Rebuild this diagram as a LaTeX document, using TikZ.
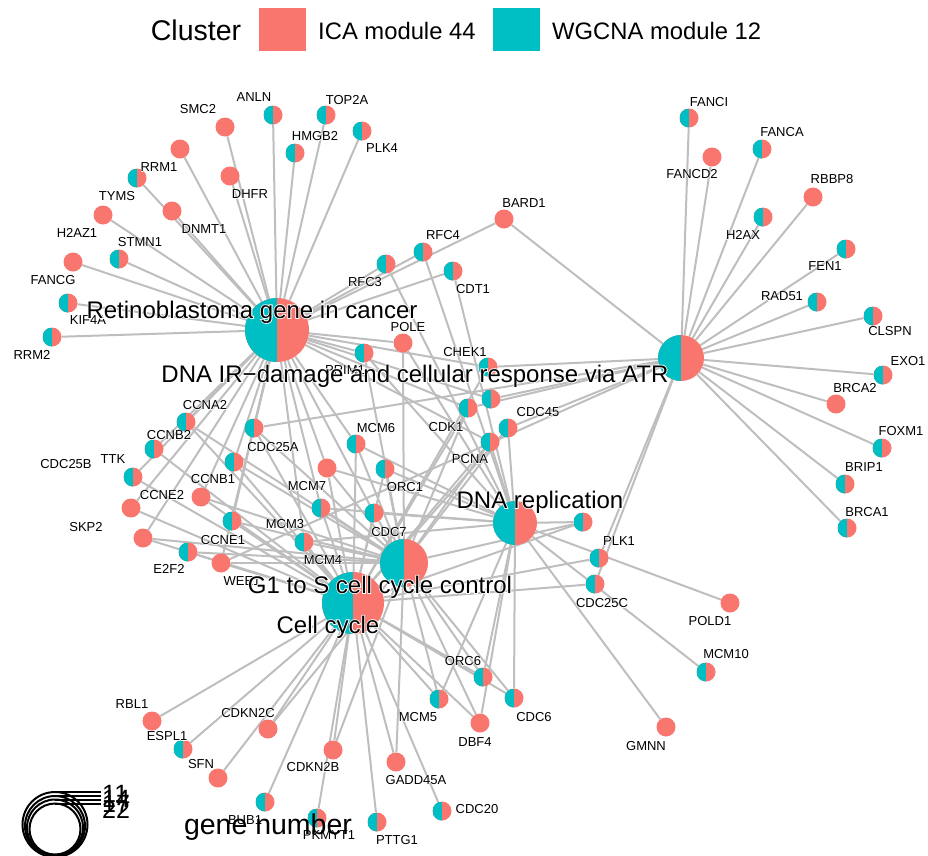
\documentclass[tikz,border=0pt]{standalone}
\usepackage{fontspec}
\setmainfont{Liberation Sans}
\newfontfamily\halohub{Liberation Sans}[FakeBold=7]
\newfontfamily\halogene{Liberation Sans}[FakeBold=6]
\definecolor{ica}{HTML}{F8766D}
\definecolor{wg}{HTML}{00BFC4}
\definecolor{edgec}{HTML}{BEBEBE}
\pgfdeclarelayer{edgelayer}
\pgfsetlayers{edgelayer,main}
\newcommand\halo[2]{\leavevmode\rlap{\color{white}#1#2}#2}
\begin{document}
\begin{tikzpicture}[x=1pt,y=-1pt,
 gene/.style={circle,inner sep=0pt,minimum size=19pt,fill=ica},
 half/.style={path picture={\fill[wg] (path picture bounding box.south west) rectangle (path picture bounding box.north);}},
 hub/.style={circle,inner sep=0pt,fill=ica,half},
 glabel/.style={inner sep=0pt,font=\fontsize{13}{15}\selectfont},
 hublabel/.style={inner sep=0pt,anchor=base,font=\fontsize{24}{27}\selectfont},
 legtitle/.style={inner sep=0pt,anchor=base,font=\fontsize{28.5}{31}\selectfont},
 legtext/.style={inner sep=0pt,anchor=base west,font=\fontsize{23.8}{26}\selectfont},
 sizetext/.style={inner sep=0pt,anchor=west,font=\fontsize{25}{27}\selectfont},
 edge/.style={draw=edgec,line width=2pt},
 sizekey/.style={draw=black,line width=2pt,fill=white}]
\useasboundingbox (0,0) rectangle (928,855);

% ---------- hubs ----------
\node[hub,minimum size=64pt] (RB) at (277,330) {};
\node[hub,minimum size=46pt] (ATR) at (681,358) {};
\node[hub,minimum size=44pt] (DR) at (515,523) {};
\node[hub,minimum size=48pt] (GS) at (404,563) {};
\node[hub,minimum size=62pt] (CC) at (353,603) {};

% ---------- genes ----------
\node[gene,half] (ANLN) at (273,115) {};
\node[gene] (SMC2) at (225,127) {};
\node[gene] (RRM1) at (180,149) {};
\node[gene,half] (HMGB2) at (295,153) {};
\node[gene,half] (TYMS) at (137,178) {};
\node[gene] (DHFR) at (230,176) {};
\node[gene] (DNMT1) at (172,211) {};
\node[gene] (H2AZ1) at (103,215) {};
\node[gene,half] (STMN1) at (119,259) {};
\node[gene] (FANCG) at (73,262) {};
\node[gene,half] (KIF4A) at (68,303) {};
\node[gene,half] (RRM2) at (52,337) {};
\node[gene,half] (TOP2A) at (326,115) {};
\node[gene,half] (PLK4) at (362,131) {};
\node[gene] (BARD1) at (504,219) {};
\node[gene,half] (RFC4) at (423,252) {};
\node[gene,half] (RFC3) at (386,264) {};
\node[gene,half] (CDT1) at (453,271) {};
\node[gene] (POLE) at (403,343) {};
\node[gene,half] (PRIM1) at (364,353) {};
\node[gene,half] (CHEK1) at (488,367) {};
\node[gene,half] (QA) at (491,399) {};
\node[gene,half] (FANCI) at (689,118) {};
\node[gene] (FANCD2) at (712,157) {};
\node[gene,half] (FANCA) at (762,149) {};
\node[gene] (RBBP8) at (813,197) {};
\node[gene,half] (H2AX) at (763,217) {};
\node[gene,half] (FEN1) at (846,249) {};
\node[gene,half] (RAD51) at (817,302) {};
\node[gene,half] (CLSPN) at (873,316) {};
\node[gene,half] (EXO1) at (883,375) {};
\node[gene] (BRCA2) at (836,404) {};
\node[gene,half] (FOXM1) at (882,448) {};
\node[gene,half] (BRIP1) at (845,484) {};
\node[gene,half] (BRCA1) at (847,528) {};
\node[gene,half] (CCNA2) at (186,422) {};
\node[gene,half] (CCNB2) at (154,449) {};
\node[gene,half] (TTK) at (133,477) {};
\node[gene] (CDC25B) at (131,508) {};
\node[gene] (SKP2) at (143,538) {};
\node[gene] (CCNE2) at (201,497) {};
\node[gene,half] (CDC25A) at (254,428) {};
\node[gene,half] (CCNB1) at (234,462) {};
\node[gene,half] (CCNE1) at (232,521) {};
\node[gene,half] (E2F2) at (188,552) {};
\node[gene] (WEE1) at (221,563) {};
\node[gene,half] (MCM6) at (356,444) {};
\node[gene] (QB) at (327,468) {};
\node[gene,half] (ORC1) at (385,469) {};
\node[gene,half] (MCM7) at (321,508) {};
\node[gene,half] (CDC7) at (374,513) {};
\node[gene,half] (MCM3) at (304,542) {};
\node[gene,half] (CDK1) at (468,408) {};
\node[gene,half] (CDC45) at (508,428) {};
\node[gene,half] (PCNA) at (490,442) {};
\node[gene,half] (QC) at (583,522) {};
\node[gene,half] (PLK1) at (599,558) {};
\node[gene,half] (CDC25C) at (595,584) {};
\node[gene] (POLD1) at (730,603) {};
\node[gene,half] (MCM10) at (706,672) {};
\node[gene] (GMNN) at (666,727) {};
\node[gene] (RBL1) at (152,721) {};
\node[gene,half] (ESPL1) at (183,749) {};
\node[gene] (CDKN2C) at (268,729) {};
\node[gene] (SFN) at (218,778) {};
\node[gene,half] (BUB1) at (265,802) {};
\node[gene] (CDKN2B) at (333,750) {};
\node[gene,half] (PKMYT1) at (317,818) {};
\node[gene,half] (PTTG1) at (377,822) {};
\node[gene] (GADD45A) at (396,762) {};
\node[gene,half] (CDC20) at (442,811) {};
\node[gene,half] (MCM5) at (439,699) {};
\node[gene,half] (ORC6) at (483,677) {};
\node[gene] (DBF4) at (480,723) {};
\node[gene,half] (CDC6) at (514,698) {};

% ---------- edges ----------
\begin{pgfonlayer}{edgelayer}
\foreach \g in {ANLN,SMC2,RRM1,HMGB2,TYMS,DHFR,DNMT1,H2AZ1,STMN1,FANCG,KIF4A,RRM2,TOP2A,PLK4,BARD1,RFC4,RFC3,CDT1,POLE,PRIM1,CHEK1,QA,CCNA2,CCNB2,TTK,CDC25B,SKP2,CCNE2,CDC25A,CCNB1,CCNE1,WEE1,MCM6,QB,MCM7,CDC7,MCM3,CDK1,PCNA}
  \draw[edge] (RB) -- (\g);
\foreach \g in {FANCI,FANCD2,FANCA,RBBP8,H2AX,FEN1,RAD51,CLSPN,EXO1,BRCA2,FOXM1,BRIP1,BRCA1,BARD1,CHEK1,QA,CDK1,CDC45,PLK1,CDC25C,CDC25A,WEE1}
  \draw[edge] (ATR) -- (\g);
\foreach \g in {RFC4,RFC3,CDT1,POLE,PRIM1,MCM6,QB,ORC1,MCM7,CDC7,MCM3,PCNA,CDC45,QC,POLD1,MCM10,GMNN,MCM5,ORC6,DBF4,CDC6}
  \draw[edge] (DR) -- (\g);
\foreach \g in {POLE,PRIM1,CCNA2,SKP2,CCNE2,CDC25A,CCNB1,CCNE1,E2F2,WEE1,MCM6,QB,ORC1,MCM7,CDC7,MCM3,CDK1,PCNA,CDC45,QC,CDKN2C,CDKN2B,GADD45A,MCM5,ORC6,CDC6,DBF4}
  \draw[edge] (GS) -- (\g);
\foreach \g in {CHEK1,CCNA2,CCNB2,TTK,CDC25B,SKP2,CCNE2,CDC25A,CCNB1,CCNE1,E2F2,WEE1,MCM6,QB,ORC1,MCM7,CDC7,MCM3,CDK1,PCNA,CDC45,QC,PLK1,CDC25C,RBL1,ESPL1,CDKN2C,SFN,BUB1,CDKN2B,PKMYT1,PTTG1,GADD45A,CDC20,MCM5,ORC6,DBF4,CDC6}
  \draw[edge] (CC) -- (\g);
\end{pgfonlayer}

% ---------- gene labels ----------
\foreach \t/\x/\y in {ANLN/254/97,SMC2/198/109,RRM1/159/167,HMGB2/315/136,TYMS/117/196,DHFR/250/194,DNMT1/204/229,H2AZ1/77/233,STMN1/140/242,FANCG/53/280,KIF4A/88/320,RRM2/32/355,TOP2A/347/100,PLK4/382/148,BARD1/524/203,RFC4/443/235,RFC3/365/282,CDT1/473/289,POLE/408/327,PRIM1/345/370,CHEK1/465/352,FANCI/709/102,FANCD2/692/174,FANCA/782/132,RBBP8/832/179,H2AX/743/235,FEN1/825/266,RAD51/782/296,CLSPN/890/331,EXO1/908/361,BRCA2/855/388,FOXM1/901/431,BRIP1/864/467,BRCA1/867/512,CCNA2/205/405,CCNB2/169/435,TTK/113/459,CDC25B/66/464,SKP2/86/527,CCNE2/162/495,CDC25A/273/447,CCNB1/213/479,CCNE1/223/540,E2F2/169/569,WEE1/242/581,MCM6/376/428,ORC1/405/487,MCM7/307/486,CDC7/389/532,MCM3/285/524,MCM4/323/560,CDK1/446/427,CDC45/538/412,PCNA/470/459,PLK1/619/541,CDC25C/602/603,POLD1/710/621,MCM10/726/654,GMNN/646/746,RBL1/132/704,ESPL1/167/736,CDKN2C/248/713,SFN/201/764,BUB1/245/820,CDKN2B/313/767,PKMYT1/329/835,PTTG1/397/840,GADD45A/416/780,CDC20/477/809,MCM5/418/717,ORC6/463/661,DBF4/475/742,CDC6/534/717}
  \node[glabel] (lab-\t) at (\x,\y) {\halo{\halogene}{\t}};

% ---------- hub labels ----------
\node[hublabel] (lab-RB) at (252,318) {\halo{\halohub}{Retinoblastoma gene in cancer}};
\node[hublabel] (lab-ATR) at (415,382) {\halo{\halohub}{DNA IR−damage and cellular response via ATR}};
\node[hublabel] (lab-DR) at (540,508) {\halo{\halohub}{DNA replication}};
\node[hublabel] (lab-GS) at (380,593) {\halo{\halohub}{G1 to S cell cycle control}};
\node[hublabel] (lab-CC) at (328,633) {\halo{\halohub}{Cell cycle}};

% ---------- colour legend ----------
\node[legtitle] (leg-title) at (196,40) {Cluster};
\node[fill=ica,minimum width=47pt,minimum height=43pt,inner sep=0pt] (leg-ica) at (282.5,29.5) {};
\node[legtext] (leg-ica-t) at (318,39) {ICA module 44};
\node[fill=wg,minimum width=47pt,minimum height=43pt,inner sep=0pt] (leg-wg) at (516.5,29.5) {};
\node[legtext] (leg-wg-t) at (552,39) {WGCNA module 12};

% ---------- size legend ----------
\draw[sizekey] (55,824.5) circle (32.5);
\draw[sizekey] (55,826) circle (30);
\draw[sizekey] (55,827.5) circle (28);
\draw[sizekey] (55,829) circle (25.5);
\foreach \yy in {792,796,799.5,803.5}
  \draw[black,line width=2pt] (55,\yy) -- (101,\yy);
\node[sizetext] (sz1) at (102,794) {11};
\node[sizetext] (sz2) at (102,799) {14};
\node[sizetext] (sz3) at (102,804) {17};
\node[sizetext] (sz4) at (102,810) {22};
\node[legtitle] (leg-size) at (268,834) {gene number};
\end{tikzpicture}
\end{document}
